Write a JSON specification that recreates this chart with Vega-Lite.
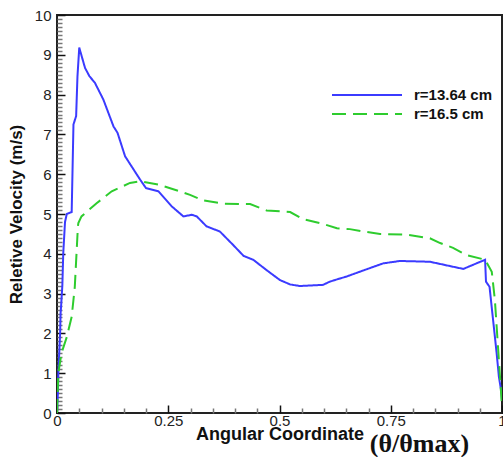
{
  "$schema": "https://vega.github.io/schema/vega-lite/v6.json",
  "width": 445,
  "height": 398,
  "autosize": {"type": "none"},
  "padding": {"left": 57, "top": 15, "right": 1, "bottom": 44},
  "background": "white",
  "title": {
    "text": "(θ/θmax)",
    "orient": "bottom",
    "anchor": "middle",
    "dx": 140,
    "offset": -12,
    "font": "Liberation Serif",
    "fontSize": 26,
    "fontWeight": "bold",
    "color": "#111"
  },
  "config": {
    "view": {"stroke": "#222", "strokeWidth": 2},
    "font": "Liberation Sans"
  },
  "data": {
    "values": [
      {"x": 0, "v": 0, "s": "r=13.64 cm"},
      {"x": 0.002, "v": 0.5, "s": "r=13.64 cm"},
      {"x": 0.003, "v": 1.0, "s": "r=13.64 cm"},
      {"x": 0.005, "v": 1.5, "s": "r=13.64 cm"},
      {"x": 0.007, "v": 2.0, "s": "r=13.64 cm"},
      {"x": 0.008, "v": 2.5, "s": "r=13.64 cm"},
      {"x": 0.009, "v": 2.65, "s": "r=13.64 cm"},
      {"x": 0.012, "v": 3.2, "s": "r=13.64 cm"},
      {"x": 0.014, "v": 4.0, "s": "r=13.64 cm"},
      {"x": 0.015, "v": 4.2, "s": "r=13.64 cm"},
      {"x": 0.018, "v": 4.8, "s": "r=13.64 cm"},
      {"x": 0.022, "v": 5.0, "s": "r=13.64 cm"},
      {"x": 0.033, "v": 5.05, "s": "r=13.64 cm"},
      {"x": 0.037, "v": 7.25, "s": "r=13.64 cm"},
      {"x": 0.043, "v": 7.46, "s": "r=13.64 cm"},
      {"x": 0.046, "v": 8.46, "s": "r=13.64 cm"},
      {"x": 0.05, "v": 9.18, "s": "r=13.64 cm"},
      {"x": 0.063, "v": 8.67, "s": "r=13.64 cm"},
      {"x": 0.073, "v": 8.46, "s": "r=13.64 cm"},
      {"x": 0.085, "v": 8.3, "s": "r=13.64 cm"},
      {"x": 0.104, "v": 7.88, "s": "r=13.64 cm"},
      {"x": 0.127, "v": 7.2, "s": "r=13.64 cm"},
      {"x": 0.136, "v": 7.04, "s": "r=13.64 cm"},
      {"x": 0.153, "v": 6.45, "s": "r=13.64 cm"},
      {"x": 0.187, "v": 5.86, "s": "r=13.64 cm"},
      {"x": 0.2, "v": 5.65, "s": "r=13.64 cm"},
      {"x": 0.228, "v": 5.57, "s": "r=13.64 cm"},
      {"x": 0.258, "v": 5.19, "s": "r=13.64 cm"},
      {"x": 0.284, "v": 4.94, "s": "r=13.64 cm"},
      {"x": 0.303, "v": 4.98, "s": "r=13.64 cm"},
      {"x": 0.314, "v": 4.94, "s": "r=13.64 cm"},
      {"x": 0.336, "v": 4.69, "s": "r=13.64 cm"},
      {"x": 0.366, "v": 4.56, "s": "r=13.64 cm"},
      {"x": 0.396, "v": 4.22, "s": "r=13.64 cm"},
      {"x": 0.419, "v": 3.95, "s": "r=13.64 cm"},
      {"x": 0.441, "v": 3.85, "s": "r=13.64 cm"},
      {"x": 0.471, "v": 3.59, "s": "r=13.64 cm"},
      {"x": 0.501, "v": 3.34, "s": "r=13.64 cm"},
      {"x": 0.524, "v": 3.23, "s": "r=13.64 cm"},
      {"x": 0.546, "v": 3.19, "s": "r=13.64 cm"},
      {"x": 0.598, "v": 3.22, "s": "r=13.64 cm"},
      {"x": 0.613, "v": 3.3, "s": "r=13.64 cm"},
      {"x": 0.636, "v": 3.38, "s": "r=13.64 cm"},
      {"x": 0.651, "v": 3.43, "s": "r=13.64 cm"},
      {"x": 0.688, "v": 3.58, "s": "r=13.64 cm"},
      {"x": 0.733, "v": 3.76, "s": "r=13.64 cm"},
      {"x": 0.771, "v": 3.82, "s": "r=13.64 cm"},
      {"x": 0.838, "v": 3.8, "s": "r=13.64 cm"},
      {"x": 0.913, "v": 3.62, "s": "r=13.64 cm"},
      {"x": 0.962, "v": 3.85, "s": "r=13.64 cm"},
      {"x": 0.964, "v": 3.3, "s": "r=13.64 cm"},
      {"x": 0.972, "v": 3.17, "s": "r=13.64 cm"},
      {"x": 0.988, "v": 1.5, "s": "r=13.64 cm"},
      {"x": 0.993, "v": 0.91, "s": "r=13.64 cm"},
      {"x": 0.999, "v": 0.5, "s": "r=13.64 cm"},
      {"x": 1.0, "v": 0.3, "s": "r=13.64 cm"},
      {"x": 0, "v": 0, "s": "r=16.5 cm"},
      {"x": 0.003, "v": 1.0, "s": "r=16.5 cm"},
      {"x": 0.01, "v": 1.5, "s": "r=16.5 cm"},
      {"x": 0.022, "v": 1.91, "s": "r=16.5 cm"},
      {"x": 0.033, "v": 2.42, "s": "r=16.5 cm"},
      {"x": 0.04, "v": 3.17, "s": "r=16.5 cm"},
      {"x": 0.047, "v": 4.69, "s": "r=16.5 cm"},
      {"x": 0.048, "v": 4.77, "s": "r=16.5 cm"},
      {"x": 0.055, "v": 4.94, "s": "r=16.5 cm"},
      {"x": 0.089, "v": 5.27, "s": "r=16.5 cm"},
      {"x": 0.123, "v": 5.57, "s": "r=16.5 cm"},
      {"x": 0.164, "v": 5.78, "s": "r=16.5 cm"},
      {"x": 0.187, "v": 5.82, "s": "r=16.5 cm"},
      {"x": 0.228, "v": 5.74, "s": "r=16.5 cm"},
      {"x": 0.276, "v": 5.57, "s": "r=16.5 cm"},
      {"x": 0.299, "v": 5.48, "s": "r=16.5 cm"},
      {"x": 0.329, "v": 5.34, "s": "r=16.5 cm"},
      {"x": 0.374, "v": 5.26, "s": "r=16.5 cm"},
      {"x": 0.434, "v": 5.25, "s": "r=16.5 cm"},
      {"x": 0.471, "v": 5.09, "s": "r=16.5 cm"},
      {"x": 0.524, "v": 5.05, "s": "r=16.5 cm"},
      {"x": 0.553, "v": 4.87, "s": "r=16.5 cm"},
      {"x": 0.598, "v": 4.75, "s": "r=16.5 cm"},
      {"x": 0.629, "v": 4.64, "s": "r=16.5 cm"},
      {"x": 0.658, "v": 4.62, "s": "r=16.5 cm"},
      {"x": 0.688, "v": 4.56, "s": "r=16.5 cm"},
      {"x": 0.726, "v": 4.5, "s": "r=16.5 cm"},
      {"x": 0.786, "v": 4.48, "s": "r=16.5 cm"},
      {"x": 0.838, "v": 4.39, "s": "r=16.5 cm"},
      {"x": 0.861, "v": 4.27, "s": "r=16.5 cm"},
      {"x": 0.89, "v": 4.15, "s": "r=16.5 cm"},
      {"x": 0.92, "v": 3.97, "s": "r=16.5 cm"},
      {"x": 0.962, "v": 3.85, "s": "r=16.5 cm"},
      {"x": 0.977, "v": 3.55, "s": "r=16.5 cm"},
      {"x": 0.984, "v": 2.84, "s": "r=16.5 cm"},
      {"x": 0.992, "v": 1.5, "s": "r=16.5 cm"},
      {"x": 0.999, "v": 0.32, "s": "r=16.5 cm"},
      {"x": 1.0, "v": 0.2, "s": "r=16.5 cm"}
    ]
  },
  "mark": {"type": "line", "strokeWidth": 2, "clip": true},
  "encoding": {
    "x": {
      "field": "x",
      "type": "quantitative",
      "scale": {"domain": [0, 1], "nice": false, "zero": false},
      "axis": {
        "title": "Angular Coordinate",
        "titleFont": "Liberation Sans",
        "titleFontSize": 18,
        "titleFontWeight": "bold",
        "titleColor": "#111",
        "titleBaseline": "middle",
        "titleY": 21,
        "values": [0, 0.05, 0.1, 0.15, 0.2, 0.25, 0.3, 0.35, 0.4, 0.45, 0.5, 0.55, 0.6, 0.65, 0.7, 0.75, 0.8, 0.85, 0.9, 0.95, 1],
        "format": "~g",
        "labelExpr": "abs(datum.value*4 - round(datum.value*4)) < 0.001 ? datum.label : ''",
        "labelFont": "Liberation Sans",
        "labelFontSize": 15,
        "labelColor": "#222",
        "labelPadding": 8,
        "labelFlush": false,
        "labelOverlap": false,
        "domain": false,
        "grid": false,
        "tickSize": {"condition": {"test": "abs(datum.value*4 - round(datum.value*4)) < 0.001", "value": -8}, "value": -5},
        "tickColor": {"condition": {"test": "abs(datum.value*4 - round(datum.value*4)) < 0.001", "value": "#111"}, "value": "#777"},
        "tickWidth": 1.5
      }
    },
    "y": {
      "field": "v",
      "type": "quantitative",
      "scale": {"domain": [0, 10], "nice": false},
      "axis": {
        "title": "Reletive Velocity (m/s)",
        "titleFont": "Liberation Sans",
        "titleFontSize": 17,
        "titleFontWeight": "bold",
        "titleColor": "#111",
        "titlePadding": 9,
        "values": [0, 0.1, 0.2, 0.3, 0.4, 0.5, 0.6, 0.7, 0.8, 0.9, 1, 1.1, 1.2, 1.3, 1.4, 1.5, 1.6, 1.7, 1.8, 1.9, 2, 2.1, 2.2, 2.3, 2.4, 2.5, 2.6, 2.7, 2.8, 2.9, 3, 3.1, 3.2, 3.3, 3.4, 3.5, 3.6, 3.7, 3.8, 3.9, 4, 4.1, 4.2, 4.3, 4.4, 4.5, 4.6, 4.7, 4.8, 4.9, 5, 5.1, 5.2, 5.3, 5.4, 5.5, 5.6, 5.7, 5.8, 5.9, 6, 6.1, 6.2, 6.3, 6.4, 6.5, 6.6, 6.7, 6.8, 6.9, 7, 7.1, 7.2, 7.3, 7.4, 7.5, 7.6, 7.7, 7.8, 7.9, 8, 8.1, 8.2, 8.3, 8.4, 8.5, 8.6, 8.7, 8.8, 8.9, 9, 9.1, 9.2, 9.3, 9.4, 9.5, 9.6, 9.7, 9.8, 9.9, 10],
        "format": "~g",
        "labelExpr": "abs(datum.value - round(datum.value)) < 0.001 ? datum.label : ''",
        "labelFont": "Liberation Sans",
        "labelFontSize": 15,
        "labelColor": "#222",
        "labelPadding": 14,
        "labelOverlap": false,
        "domain": false,
        "grid": false,
        "tickSize": {"condition": {"test": "abs(datum.value - round(datum.value)) < 0.001", "value": -8}, "value": -5},
        "tickColor": {"condition": {"test": "abs(datum.value - round(datum.value)) < 0.001", "value": "#111"}, "value": "#777"},
        "tickWidth": 1.5
      }
    },
    "color": {
      "field": "s",
      "type": "nominal",
      "scale": {"domain": ["r=13.64 cm", "r=16.5 cm"], "range": ["#3b3bff", "#2ecc2e"]},
      "legend": {
        "title": null,
        "orient": "none",
        "legendX": 274,
        "legendY": 72,
        "symbolType": "stroke",
        "symbolSize": 4900,
        "symbolStrokeWidth": 2,
        "clipHeight": 16,
        "labelFont": "Liberation Sans",
        "labelFontSize": 15,
        "labelFontWeight": "bold",
        "labelColor": "#111",
        "labelOffset": 11,
        "rowPadding": 3,
        "padding": 0
      }
    },
    "strokeDash": {
      "field": "s",
      "type": "nominal",
      "scale": {"domain": ["r=13.64 cm", "r=16.5 cm"], "range": [[1, 0], [14, 7]]},
      "legend": {
        "title": null,
        "orient": "none",
        "legendX": 274,
        "legendY": 72,
        "symbolType": "stroke",
        "symbolSize": 4900,
        "symbolStrokeWidth": 2,
        "clipHeight": 16,
        "labelFont": "Liberation Sans",
        "labelFontSize": 15,
        "labelFontWeight": "bold",
        "labelColor": "#111",
        "labelOffset": 11,
        "rowPadding": 3,
        "padding": 0
      }
    }
  }
}
